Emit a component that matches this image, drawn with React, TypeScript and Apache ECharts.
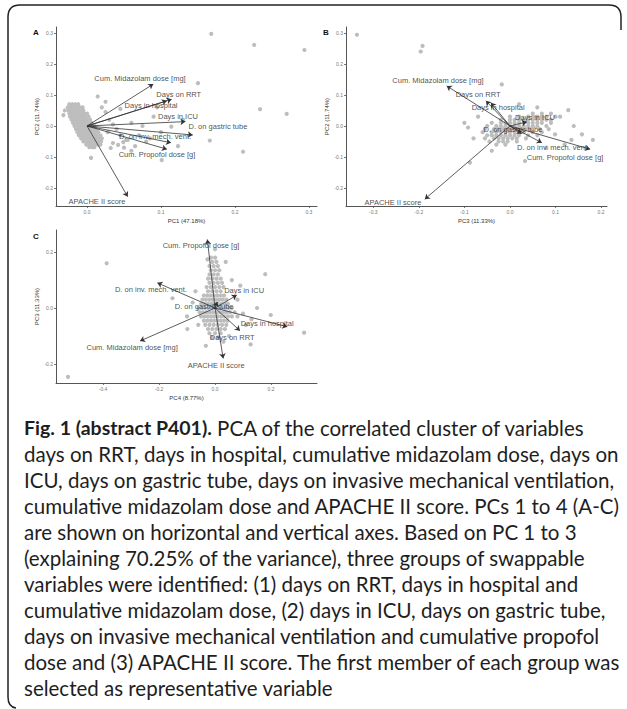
import React, { useEffect, useRef } from 'react';
import * as echarts from 'echarts';

const VARS = [
  'Cum. Midazolam dose [mg]',
  'Days on RRT',
  'Days in hospital',
  'Days in ICU',
  'D. on gastric tube',
  'D. on inv. mech. vent.',
  'Cum. Propofol dose [g]',
  'APACHE II score',
];

// loadings (arrow tips) per panel, in VARS order
const arrowsA = [[0.0896, 0.135], [0.1144, 0.086], [0.108, 0.081], [0.133, 0.014], [0.143, -0.029], [0.1135, -0.054], [0.108, -0.075], [0.055, -0.228]];
const labelsA = [[0.0716, 0.152], [0.124, 0.1], [0.0865, 0.0645], [0.123, 0.029], [0.177, -0.003], [0.092, -0.035], [0.0946, -0.0935], [0.0135, -0.245]];
const arrowsB = [[-0.139, 0.129], [-0.053, 0.081], [-0.042, 0.075], [0.037, 0.013], [0.026, -0.025], [0.07, -0.054], [0.176, -0.075], [-0.187, -0.236]];
const labelsB = [[-0.158, 0.145], [-0.07, 0.1], [-0.026, 0.061], [0.055, 0.026], [0.0066, -0.013], [0.0945, -0.071], [0.121, -0.103], [-0.257, -0.248]];
const arrowsC = [[-0.268, -0.118], [0.089, -0.081], [0.258, -0.067], [0.0775, 0.046], [0.008, 0.0225], [-0.206, 0.09], [-0.0275, 0.245], [0.029, -0.18]];
const labelsC = [[-0.296, -0.142], [0.061, -0.104], [0.186, -0.054], [0.104, 0.064], [-0.039, 0.007], [-0.229, 0.068], [-0.05, 0.225], [0.004, -0.207]];

// tick values
const ticksAx = [0, 0.1, 0.2, 0.3];
const ticksAy = [-0.2, -0.1, 0, 0.1, 0.2, 0.3];
const ticksBx = [-0.3, -0.2, -0.1, 0, 0.1, 0.2];
const ticksBy = [-0.2, -0.1, 0, 0.1, 0.2, 0.3];
const ticksCx = [-0.4, -0.2, 0, 0.2];
const ticksCy = [-0.2, 0, 0.2];

// observation scores, panel A (PC1 vs PC2)
const pointsA = [
  [-0.024, 0.07], [-0.02, 0.07], [-0.016, 0.07], [-0.012, 0.07],
  [-0.026, 0.06], [-0.022, 0.06], [-0.018, 0.06], [-0.014, 0.06], [-0.01, 0.06], [-0.006, 0.06],
  [-0.025, 0.05], [-0.021, 0.05], [-0.017, 0.05], [-0.013, 0.05], [-0.009, 0.05], [-0.005, 0.05],
  [-0.024, 0.04], [-0.02, 0.04], [-0.016, 0.04], [-0.012, 0.04], [-0.008, 0.04], [-0.004, 0.04], [0.0, 0.04],
  [-0.023, 0.03], [-0.019, 0.03], [-0.015, 0.03], [-0.011, 0.03], [-0.007, 0.03], [-0.003, 0.03], [0.002, 0.03],
  [-0.021, 0.02], [-0.017, 0.02], [-0.013, 0.02], [-0.009, 0.02], [-0.005, 0.02], [-0.001, 0.02], [0.004, 0.02],
  [-0.019, 0.01], [-0.015, 0.01], [-0.011, 0.01], [-0.007, 0.01], [-0.003, 0.01], [0.001, 0.01], [0.006, 0.01],
  [-0.017, 0.0], [-0.013, 0.0], [-0.009, 0.0], [-0.005, 0.0], [-0.001, 0.0], [0.003, 0.0], [0.007, 0.0], [0.01, 0.0],
  [-0.015, -0.01], [-0.011, -0.01], [-0.007, -0.01], [-0.003, -0.01], [0.001, -0.01], [0.005, -0.01], [0.009, -0.01], [0.012, -0.01],
  [-0.013, -0.02], [-0.009, -0.02], [-0.005, -0.02], [-0.001, -0.02], [0.003, -0.02], [0.007, -0.02], [0.011, -0.02], [0.015, -0.02],
  [-0.011, -0.03], [-0.007, -0.03], [-0.003, -0.03], [0.001, -0.03], [0.005, -0.03], [0.009, -0.03], [0.013, -0.03], [0.018, -0.03],
  [-0.008, -0.04], [-0.004, -0.04], [0.0, -0.04], [0.004, -0.04], [0.008, -0.04], [0.012, -0.04], [0.016, -0.04], [0.02, -0.04],
  [-0.005, -0.05], [-0.001, -0.05], [0.003, -0.05], [0.007, -0.05], [0.011, -0.05], [0.015, -0.05], [0.019, -0.05],
  [-0.001, -0.06], [0.003, -0.06], [0.007, -0.06], [0.011, -0.06], [0.015, -0.06], [0.018, -0.06],
  [0.003, -0.068], [0.007, -0.068], [0.01, -0.068],
  [0.03, 0.02], [0.04, -0.01], [0.045, -0.03], [0.055, -0.045], [0.06, 0.01], [0.07, -0.03], [0.08, -0.05],
  [0.035, -0.055], [0.05, -0.07], [0.065, -0.065], [0.025, 0.045], [0.045, 0.055], [0.09, 0.03], [0.1, -0.02],
  [0.085, -0.04], [0.032, -0.071], [0.042, -0.061], [0.049, -0.052], [0.053, -0.045], [0.028, -0.02], [0.035, 0.005],
  [0.075, 0.0], [0.02, 0.06], [-0.03, 0.05], [-0.032, 0.035], [0.06, -0.08], [0.13, 0.02], [0.095, 0.06],
  [0.168, 0.297], [0.226, 0.261], [0.294, 0.245], [0.234, 0.054], [0.27, 0.039], [0.211, -0.083], [0.166, -0.047],
  [0.15, 0.138], [0.123, -0.065], [0.0144, 0.095], [0.0054, -0.103], [0.025, 0.078], [0.101, -0.11], [0.114, -0.002],
];

// panel B (PC3 vs PC2)
const pointsB = [
  [0.05, 0.04], [0.07, 0.04], [0.09, 0.04],
  [0.0, 0.03], [0.02, 0.03], [0.04, 0.03], [0.05, 0.03], [0.06, 0.03], [0.07, 0.03], [0.08, 0.03], [0.1, 0.03],
  [-0.02, 0.02], [0.0, 0.02], [0.01, 0.02], [0.02, 0.02], [0.03, 0.02], [0.04, 0.02], [0.05, 0.02], [0.06, 0.02], [0.07, 0.02], [0.08, 0.02], [0.09, 0.02],
  [-0.04, 0.01], [-0.02, 0.01], [-0.01, 0.01], [0.0, 0.01], [0.01, 0.01], [0.02, 0.01], [0.03, 0.01], [0.04, 0.01], [0.05, 0.01], [0.06, 0.01], [0.07, 0.01], [0.09, 0.01],
  [-0.05, 0.0], [-0.03, 0.0], [-0.02, 0.0], [-0.01, 0.0], [0.0, 0.0], [0.01, 0.0], [0.02, 0.0], [0.03, 0.0], [0.04, 0.0], [0.05, 0.0], [0.06, 0.0], [0.08, 0.0],
  [-0.055, -0.01], [-0.035, -0.01], [-0.025, -0.01], [-0.015, -0.01], [-0.005, -0.01], [0.005, -0.01], [0.015, -0.01], [0.025, -0.01], [0.035, -0.01], [0.045, -0.01], [0.065, -0.01], [0.085, -0.01],
  [-0.06, -0.02], [-0.04, -0.02], [-0.03, -0.02], [-0.02, -0.02], [-0.01, -0.02], [0.0, -0.02], [0.01, -0.02], [0.02, -0.02], [0.03, -0.02], [0.05, -0.02], [0.07, -0.02],
  [-0.05, -0.03], [-0.04, -0.03], [-0.03, -0.03], [-0.02, -0.03], [-0.01, -0.03], [0.0, -0.03], [0.01, -0.03], [0.02, -0.03], [0.04, -0.03], [0.06, -0.03],
  [-0.055, -0.04], [-0.035, -0.04], [-0.025, -0.04], [-0.015, -0.04], [-0.005, -0.04], [0.005, -0.04], [0.015, -0.04], [0.035, -0.04],
  [-0.045, -0.05], [-0.025, -0.05], [-0.015, -0.05], [-0.005, -0.05], [0.015, -0.05],
  [-0.03, -0.06], [-0.01, -0.06],
  [-0.336, 0.294], [-0.192, 0.258], [-0.196, 0.24], [-0.018, 0.134], [0.128, 0.051], [0.099, -0.027], [0.158, -0.027],
  [0.182, -0.045], [-0.092, -0.005], [-0.088, -0.118], [0.033, -0.113], [-0.1, 0.01], [0.12, -0.06], [0.14, 0.0],
  [0.06, 0.06], [-0.07, 0.03], [-0.08, -0.04], [0.02, 0.07], [0.11, 0.03], [-0.04, -0.08], [0.08, -0.07], [0.135, -0.045],
];

// panel C (PC4 vs PC3)
const pointsC = [
  [-0.015, 0.18], [0.0, 0.18],
  [-0.01, 0.165], [0.005, 0.165],
  [-0.02, 0.15], [-0.005, 0.15], [0.01, 0.15],
  [-0.015, 0.135], [0.0, 0.135], [0.015, 0.135],
  [-0.02, 0.12], [-0.005, 0.12], [0.01, 0.12],
  [-0.025, 0.105], [-0.01, 0.105], [0.005, 0.105], [0.02, 0.105],
  [-0.02, 0.09], [-0.005, 0.09], [0.01, 0.09], [0.025, 0.09],
  [-0.03, 0.075], [-0.015, 0.075], [0.0, 0.075], [0.015, 0.075], [0.03, 0.075],
  [-0.025, 0.06], [-0.01, 0.06], [0.005, 0.06], [0.02, 0.06],
  [-0.04, 0.045], [-0.028, 0.045], [-0.016, 0.045], [-0.004, 0.045], [0.008, 0.045], [0.02, 0.045], [0.032, 0.045],
  [-0.045, 0.03], [-0.033, 0.03], [-0.021, 0.03], [-0.009, 0.03], [0.003, 0.03], [0.015, 0.03], [0.027, 0.03], [0.04, 0.03],
  [-0.05, 0.015], [-0.038, 0.015], [-0.026, 0.015], [-0.014, 0.015], [-0.002, 0.015], [0.01, 0.015], [0.022, 0.015], [0.034, 0.015], [0.046, 0.015],
  [-0.06, 0.0], [-0.048, 0.0], [-0.036, 0.0], [-0.024, 0.0], [-0.012, 0.0], [0.0, 0.0], [0.012, 0.0], [0.024, 0.0], [0.036, 0.0], [0.048, 0.0], [0.06, 0.0],
  [-0.055, -0.015], [-0.043, -0.015], [-0.031, -0.015], [-0.019, -0.015], [-0.007, -0.015], [0.005, -0.015], [0.017, -0.015], [0.029, -0.015], [0.041, -0.015], [0.053, -0.015], [0.07, -0.015],
  [-0.05, -0.03], [-0.038, -0.03], [-0.026, -0.03], [-0.014, -0.03], [-0.002, -0.03], [0.01, -0.03], [0.022, -0.03], [0.034, -0.03], [0.046, -0.03], [0.06, -0.03], [0.08, -0.03],
  [-0.04, -0.045], [-0.028, -0.045], [-0.016, -0.045], [-0.004, -0.045], [0.008, -0.045], [0.02, -0.045], [0.032, -0.045], [0.044, -0.045],
  [-0.035, -0.06], [-0.02, -0.06], [-0.005, -0.06], [0.01, -0.06], [0.025, -0.06], [0.04, -0.06],
  [-0.025, -0.075], [-0.01, -0.075], [0.005, -0.075], [0.02, -0.075], [0.035, -0.075],
  [-0.02, -0.09], [0.0, -0.09], [0.02, -0.09],
  [-0.01, -0.105], [0.01, -0.105],
  [-0.387, 0.16], [0.038, 0.165], [0.179, 0.121], [-0.152, 0.035], [0.199, -0.025], [0.318, -0.088], [0.127, -0.13],
  [-0.033, -0.135], [-0.099, -0.075], [-0.027, 0.174], [-0.525, -0.246], [0.1, -0.02], [0.13, -0.04], [0.15, 0.0],
  [-0.08, 0.02], [-0.1, -0.03], [0.06, 0.1], [0.09, 0.08], [-0.06, -0.06], [0.05, -0.1], [0.11, -0.06], [-0.07, 0.06],
  [0.08, 0.03], [0.03, -0.12], [0.0, 0.21],
];

const CAPTION = [
  '{b|Fig. 1 (abstract P401).} PCA of the correlated cluster of variables',
  'days on RRT, days in hospital, cumulative midazolam dose, days on',
  'ICU, days on gastric tube, days on invasive mechanical ventilation,',
  'cumulative midazolam dose and APACHE II score. PCs 1 to 4 (A-C)',
  'are shown on horizontal and vertical axes. Based on PC 1 to 3',
  '(explaining 70.25% of the variance), three groups of swappable',
  'variables were identified: (1) days on RRT, days in hospital and',
  'cumulative midazolam dose, (2) days in ICU, days on gastric tube,',
  'days on invasive mechanical ventilation and cumulative propofol',
  'dose and (3) APACHE II score. The first member of each group was',
  'selected as representative variable',
];

const FONT = 'Liberation Sans';
const AXIS_COLOR = '#555';

function makeAxis(gridIndex: number, min: number, max: number, ticks: number[], name: string, isY: boolean) {
  return {
    type: 'value',
    gridIndex,
    min,
    max,
    name,
    nameLocation: 'middle',
    nameGap: isY ? 14 : 12,
    nameRotate: isY ? 90 : 0,
    nameTextStyle: { fontFamily: FONT, fontSize: 6, color: '#333' },
    axisLine: { show: true, onZero: false, lineStyle: { color: AXIS_COLOR, width: 1 } },
    axisTick: { show: true, length: 2, customValues: ticks, lineStyle: { color: AXIS_COLOR, width: 0.8 } },
    axisLabel: {
      show: true,
      customValues: ticks,
      margin: 3,
      fontFamily: FONT,
      fontSize: 5,
      color: '#777',
      formatter: (v: number) => v.toFixed(1),
    },
    splitLine: { show: false },
  };
}

function panelSeries(idx: number, points: number[][], arrows: number[][], labels: number[][]) {
  return [
    {
      type: 'scatter',
      xAxisIndex: idx,
      yAxisIndex: idx,
      data: points,
      symbolSize: 4.2,
      itemStyle: { color: '#bdbdbd', opacity: 1 },
      z: 1,
      silent: true,
    },
    {
      type: 'lines',
      coordinateSystem: 'cartesian2d',
      xAxisIndex: idx,
      yAxisIndex: idx,
      data: arrows.map((a) => ({ coords: [[0, 0], a] })),
      symbol: ['none', 'arrow'],
      symbolSize: 5,
      lineStyle: { color: '#333', width: 0.8, opacity: 1 },
      z: 2,
      silent: true,
    },
    {
      type: 'scatter',
      xAxisIndex: idx,
      yAxisIndex: idx,
      data: labels.map((l, i) => ({ name: VARS[i], value: l })),
      symbolSize: 0,
      itemStyle: { color: '#222' },
      label: {
        show: true,
        position: [0, 0],
        align: 'center',
        verticalAlign: 'middle',
        formatter: (p: any) => p.name,
        fontFamily: FONT,
        fontSize: 7.5,
        color: '#222',
        textBorderWidth: 0,
      },
      z: 3,
      silent: true,
    },
  ];
}

export default function App() {
  const ref = useRef<HTMLDivElement>(null);
  useEffect(() => {
    if (!ref.current) return;
    const borderPath = 'M16 708 Q8 707 8 697 L8 17 Q8 5 20 5 L609 5 Q621 5 621 17 L621 30';
    echarts.graphic.registerShape('frame', echarts.graphic.extendPath(borderPath, {}) as any);
    const chart = echarts.init(ref.current, null, { renderer: 'svg' });
    const captionEls = CAPTION.map((t, i) => ({
      type: 'text',
      left: 24,
      top: 417 + i * 26,
      style: {
        text: t,
        fontFamily: 'Lato',
        fontSize: 20.5,
        fill: '#1e1e1e',
        rich: { b: { fontFamily: 'Lato', fontSize: 19.5, fontWeight: 'bold', fill: '#1e1e1e' } },
      },
    }));
    chart.setOption({
      animation: false,
      backgroundColor: '#fff',
      grid: [
        { left: 56, top: 27, width: 261, height: 179 },
        { left: 346, top: 27, width: 261, height: 179 },
        { left: 56, top: 230, width: 261, height: 153 },
      ],
      xAxis: [
        makeAxis(0, -0.042, 0.311, ticksAx, 'PC1 (47.18%)', false),
        makeAxis(1, -0.36, 0.213, ticksBx, 'PC3 (11.33%)', false),
        makeAxis(2, -0.568, 0.364, ticksCx, 'PC4 (8.77%)', false),
      ],
      yAxis: [
        makeAxis(0, -0.258, 0.319, ticksAy, 'PC2 (11.74%)', true),
        makeAxis(1, -0.258, 0.319, ticksBy, 'PC2 (11.74%)', true),
        makeAxis(2, -0.268, 0.279, ticksCy, 'PC3 (11.33%)', true),
      ],
      series: [
        ...panelSeries(0, pointsA, arrowsA, labelsA),
        ...panelSeries(1, pointsB, arrowsB, labelsB),
        ...panelSeries(2, pointsC, arrowsC, labelsC),
      ],
      graphic: [
        { type: 'frame', x: 0, y: 0, style: { fill: 'none', stroke: '#222', lineWidth: 1.5 } },
        { type: 'text', left: 33, top: 28, style: { text: 'A', fontFamily: FONT, fontSize: 8, fontWeight: 'bold', fill: '#111' } },
        { type: 'text', left: 323, top: 28, style: { text: 'B', fontFamily: FONT, fontSize: 8, fontWeight: 'bold', fill: '#111' } },
        { type: 'text', left: 33, top: 232, style: { text: 'C', fontFamily: FONT, fontSize: 8, fontWeight: 'bold', fill: '#111' } },
        ...captionEls,
      ],
    });
    return () => chart.dispose();
  }, []);
  return (
    <div
      ref={ref}
      style={{ position: 'absolute', left: 0, top: 0, width: 627, height: 709, background: '#fff' }}
    />
  );
}
